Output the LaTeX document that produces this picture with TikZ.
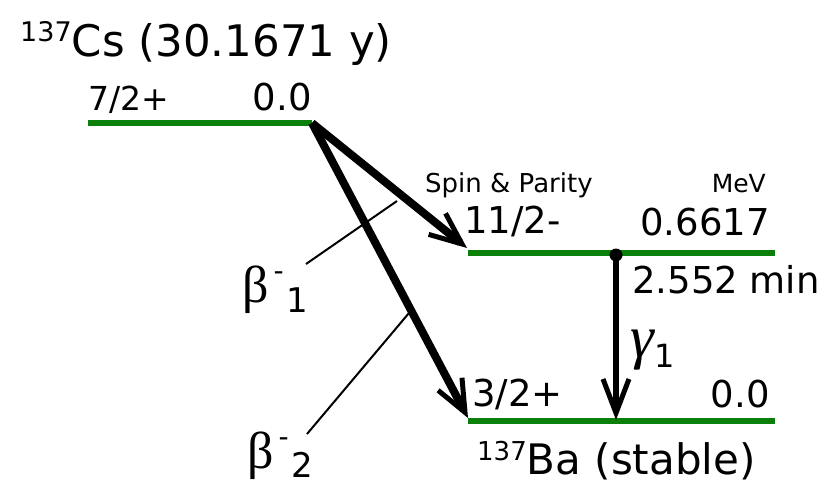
\documentclass[tikz,border=0pt]{standalone}
\usepackage{fontspec}
\setmainfont{DejaVu Sans}
\newfontfamily\grk{Liberation Serif}
\usetikzlibrary{arrows.meta}
\definecolor{lvlgreen}{RGB}{10,128,10}
\newcommand{\fsz}[1]{\fontsize{#1}{#1}\selectfont}
\tikzset{
  level/.style={draw=lvlgreen, line width=6pt},
  txt/.style={inner sep=0pt, font=\fsz{37}},
  beta/.style={draw, line width=8pt, -{Straight Barb[length=32pt, width=27pt, line width=5pt]}},
  gam/.style={draw, line width=6.5pt, -{Straight Barb[length=34pt, width=26pt, line width=5pt]}},
  leader/.style={draw, line width=2pt},
}
\begin{document}
\begin{tikzpicture}[x=1pt, y=-1pt]
\useasboundingbox (0,0) rectangle (823,485);
% level coordinates
\coordinate (csL) at (88,123);
\coordinate (csR) at (312,123);
\coordinate (m1L) at (468,253);
\coordinate (m1R) at (775,253);
\coordinate (g0L) at (468,421);
\coordinate (g0R) at (775,421);
\coordinate (m1tip) at (467,248);
\coordinate (g0tip) at (468,418);
\coordinate (gTop) at (616,255);
\coordinate (gBot) at (616,420);
% levels
\draw[level] (csL) -- (csR);
\draw[level] (m1L) -- (m1R);
\draw[level] (g0L) -- (g0R);
% texts
\node[txt, anchor=base west] (title) at (20,56) {\raisebox{15pt}{\fsz{27}137}\fsz{43.5}Cs (30.1671 y)};
\node[txt, anchor=base west, font=\fsz{33}] (csjp) at (88,110) {7/2+};
\node[txt, anchor=base east] (csE) at (312,110) {0.0};
\node[txt, anchor=base west, font=\fsz{26}] (sp) at (425,192) {Spin \& Parity};
\node[txt, anchor=base east, font=\fsz{25}] (mev) at (766,192) {MeV};
\node[txt, anchor=base west] (m1jp) at (464,233) {11/2-};
\node[txt, anchor=base east] (m1E) at (770,235) {0.6617};
\node[txt, anchor=base west] (hl) at (632,293) {2.552 min};
\node[txt, anchor=base west] (g0jp) at (472,406) {3/2+};
\node[txt, anchor=base east] (g0E) at (770,407) {0.0};
\node[txt, anchor=base west] (ba) at (477,474) {\raisebox{14pt}{\fsz{26}137}\fsz{42}Ba (stable)};
% beta arrows
\draw[beta] (csR) -- (m1tip);
\draw[beta] (csR) -- (g0tip);
% gamma
\draw[gam] (gTop) -- (gBot);
\fill (gTop) circle (6.5pt);
\node[txt, anchor=base west] (gl) at (630,357) {{\grk\itshape\fsz{60}γ}\hspace{1pt}\raisebox{-10pt}{\fsz{32}1}};
% beta labels
\node[txt, anchor=base west] (b1) at (242,302) {{\grk\fsz{52}β}\hspace{5pt}\raisebox{22pt}{\fsz{28}-}\hspace{3pt}\raisebox{-10pt}{\fsz{34}1}};
\node[txt, anchor=base west] (b2) at (247,468) {{\grk\fsz{52}β}\hspace{5pt}\raisebox{22pt}{\fsz{28}-}\hspace{3pt}\raisebox{-9pt}{\fsz{34}2}};
\coordinate (l1a) at (397,201);
\coordinate (l1b) at (306,264);
\coordinate (l2a) at (409,313);
\coordinate (l2b) at (307,434);
\draw[leader] (l1a) -- (l1b);
\draw[leader] (l2a) -- (l2b);
\end{tikzpicture}
\end{document}
